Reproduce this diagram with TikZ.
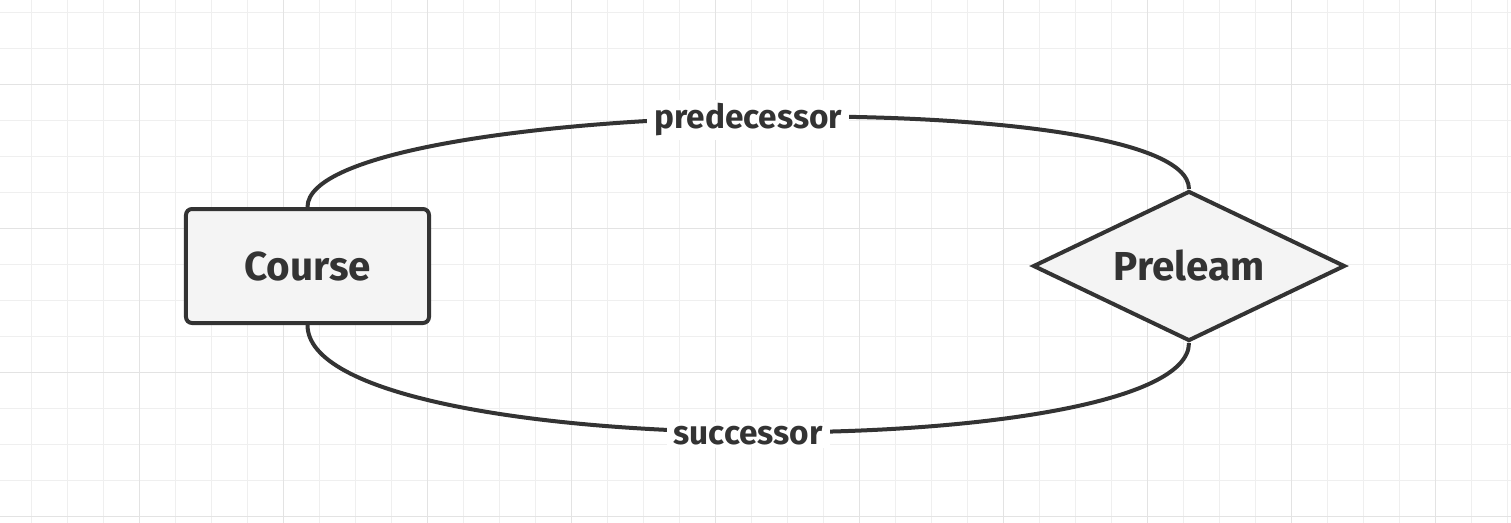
\documentclass[tikz,border=0pt]{standalone}
\usepackage{fontspec}
\setmainfont{Fira Sans}
\usepackage{tikz}
\usepackage{xcolor}
\usetikzlibrary{shapes.geometric}

\definecolor{inkgray}{HTML}{333333}
\definecolor{boxgray}{HTML}{F4F4F4}
\definecolor{gridminor}{HTML}{EFEFEF}
\definecolor{gridmajor}{HTML}{E3E3E3}

\begin{document}
\begin{tikzpicture}[scale=0.2]
\tikzstyle{entity}=[draw=inkgray, fill=boxgray, line width=0.08cm, rounded corners=0.12cm, minimum width=4.86cm, minimum height=2.28cm, inner sep=0pt, text=inkgray, font=\bfseries\fontsize{23}{27}\selectfont]
\tikzstyle{relation}=[diamond, draw=inkgray, fill=boxgray, line width=0.08cm, aspect=2.08, minimum width=6.24cm, minimum height=3cm, inner sep=0pt, text=inkgray, font=\bfseries\fontsize{23}{27}\selectfont]
\tikzstyle{link}=[draw=inkgray, line width=0.08cm]
\tikzstyle{linklabel}=[fill=white, inner xsep=4pt, inner ysep=2pt, yshift=-0.06cm, text=inkgray, font=\bfseries\fontsize{19}{22}\selectfont]
\useasboundingbox (0,0) rectangle (151.1,-52.3);
\fill [white] (0,0) rectangle (151.1,-52.3);
% grid
\begin{scope}[shift={(3.1,-1.2)}]
\draw [gridminor, line width=0.4pt] (-3.6,1.3) grid [step=3.6] (148.1,-51.2);
\end{scope}
\begin{scope}[shift={(13.9,-8.4)}]
\draw [gridmajor, line width=0.5pt] (-14.4,8.5) grid [step=14.4] (137.3,-44);
\end{scope}
% shapes
\node [entity] (course) at (30.75,-26.6) {Course};
\node [relation] (preleam) at (118.9,-26.6) {Preleam};
% links
\draw [link] (course.north) .. controls +(0,10.8) and +(0,10.8) .. (preleam.north)
  node [linklabel, midway] (pred) {predecessor};
\draw [link] (course.south) .. controls +(0,-14) and +(0,-12.2) .. (preleam.south)
  node [linklabel, midway] (succ) {successor};
\end{tikzpicture}
\end{document}
